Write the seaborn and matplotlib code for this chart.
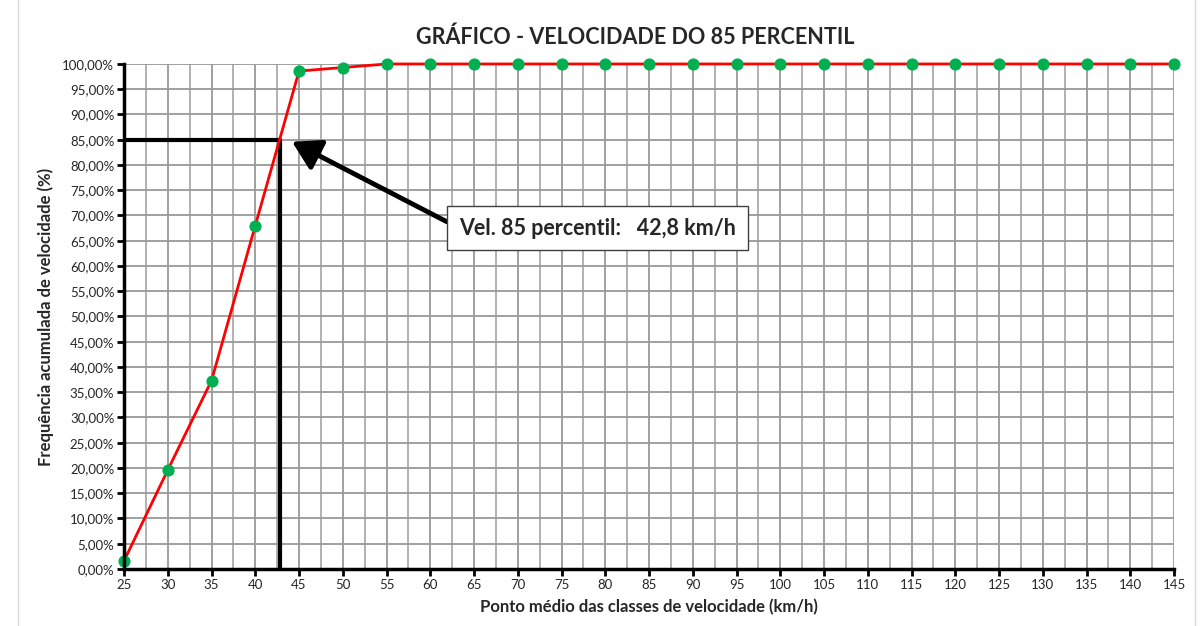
import matplotlib
matplotlib.use("Agg")
import matplotlib.pyplot as plt
import seaborn as sns
import pandas as pd
import numpy as np
from matplotlib.ticker import MultipleLocator, FuncFormatter
from matplotlib.patches import Rectangle

velocidade = [25, 30, 35, 40, 45, 50, 55, 60, 65, 70, 75, 80, 85, 90, 95, 100,
              105, 110, 115, 120, 125, 130, 135, 140, 145]
freq_acum = [1.6, 19.6, 37.3, 68.0, 98.6, 99.3] + [100.0] * 19
v85 = 42.8
p85 = 85.0
titulo = "GRÁFICO - VELOCIDADE DO 85 PERCENTIL"
rotulo = "Vel. 85 percentil:   42,8 km/h"

sns.set_theme(style="white")
plt.rcParams['font.family'] = ['Lato', 'DejaVu Sans']

df = pd.DataFrame({"v": velocidade, "f": freq_acum})

fig = plt.figure(figsize=(12.03, 6.26), dpi=100)
ax = fig.add_axes([0.1031, 0.0911, 0.8728, 0.8067])

# outer chart border (Excel-like)
fig.patches.append(Rectangle((0.015, -0.01), 0.978, 1.02, transform=fig.transFigure,
                             fill=False, edgecolor="#d9d9d9", lw=1.0))

sns.lineplot(data=df, x="v", y="f", ax=ax, color="#ff0000", lw=2,
             marker="o", markersize=8, markerfacecolor="#00b050",
             markeredgecolor="#00b050", zorder=5, clip_on=False)

ax.set_xlim(25, 145)
ax.set_ylim(0, 100)
ax.xaxis.set_major_locator(MultipleLocator(5))
ax.xaxis.set_minor_locator(MultipleLocator(2.5))
ax.yaxis.set_major_locator(MultipleLocator(5))
ax.yaxis.set_major_formatter(FuncFormatter(lambda y, p: f"{y:.2f}%".replace(".", ",")))
ax.grid(True, which="major", axis="x", color="#999999", lw=1.3)
ax.grid(True, which="minor", axis="x", color="#ababab", lw=1.3)
ax.grid(True, which="major", axis="y", color="#999999", lw=1.3)
ax.set_axisbelow(True)

for s in ["top", "right"]:
    ax.spines[s].set_visible(False)
for s in ["left", "bottom"]:
    ax.spines[s].set_color("black")
    ax.spines[s].set_linewidth(2.5)
    ax.spines[s].set_zorder(6)

ax.tick_params(axis="both", which="major", direction="out", length=5, width=2,
               color="black", labelsize=9.5, pad=2, bottom=True, left=True)
ax.tick_params(axis="x", which="minor", length=0)

# 85th percentile guide lines
ax.plot([25, v85], [p85, p85], color="black", lw=3, zorder=4)
ax.plot([v85, v85], [0, p85], color="black", lw=3, zorder=4)

ax.annotate(rotulo, xy=(v85 + 1.4, p85 - 0.4), xytext=(63.3, 67.5),
            fontsize=15.5, fontweight="bold", va="center", ha="left",
            bbox=dict(boxstyle="square,pad=0.55", fc="white", ec="#404040", lw=1),
            arrowprops=dict(arrowstyle="-|>,head_length=1.1,head_width=0.65",
                            color="black", lw=3.5, shrinkA=0, shrinkB=0,
                            relpos=(0, 0.5)),
            zorder=7)

ax.set_xlabel("Ponto médio das classes de velocidade (km/h)", fontsize=12,
              fontweight="bold", labelpad=6)
ax.set_ylabel("Frequência acumulada de velocidade (%)", fontsize=12,
              fontweight="bold", labelpad=6)
fig.text(0.528, 0.94, titulo, ha="center", va="center", fontsize=15.5,
         fontweight="bold")

fig.savefig("out.png", dpi=100)
